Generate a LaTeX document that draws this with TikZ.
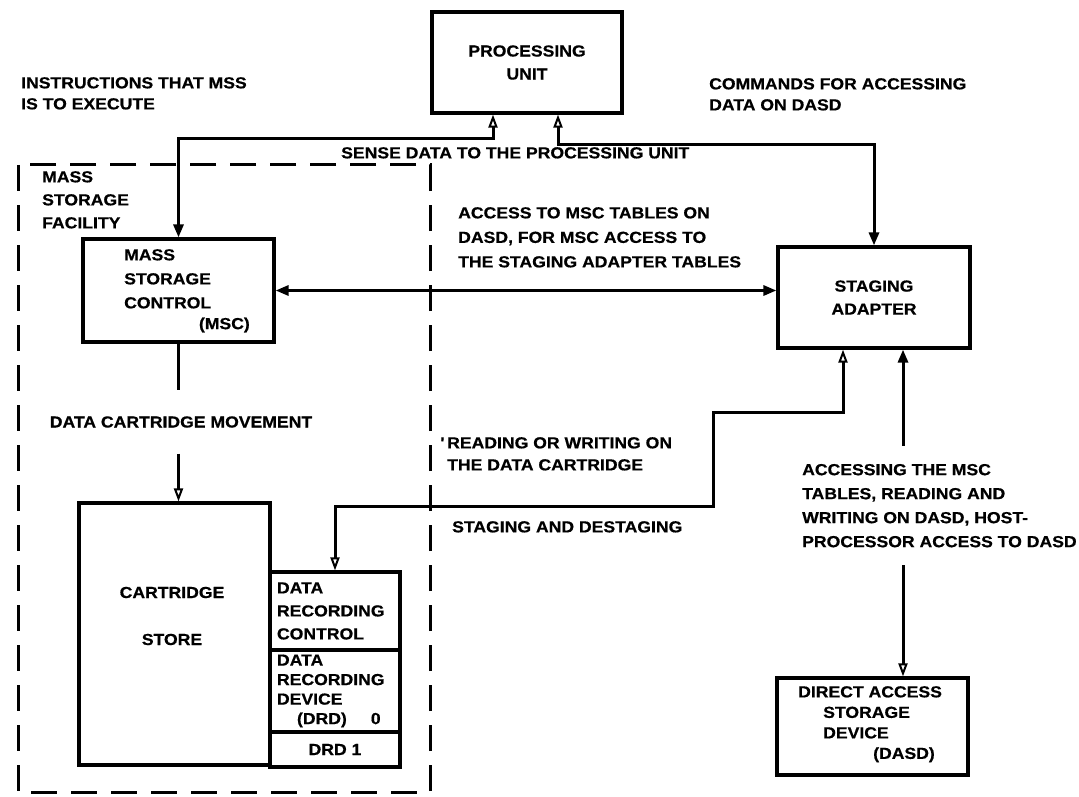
\documentclass[tikz,border=0pt]{standalone}
\usepackage{fontspec}
\newfontfamily\diagfont{Liberation Sans}[FakeStretch=1.1,FakeBold=0.6]
\usetikzlibrary{arrows.meta,calc,positioning}
\tikzset{
	Full/.tip={Triangle[length=13pt,width=10pt]},
	Hollow/.tip={Triangle[open,length=13pt,width=9pt,line width=2pt]},
	box/.style={% plain boxes of the diagram
		draw, rectangle,
		line width=3.2pt,
		inner sep=0pt,
		font=\diagfont\bfseries\fontsize{16}{23}\selectfont,
		align=center
	},
	txt/.style={% free labels, set flush left
		inner sep=0pt,
		font=\diagfont\bfseries\fontsize{16}{#1}\selectfont,
		align=left
	},
	txt/.default=23,
	link/.style={line width=3pt},
	facility/.style={line width=3pt, dash pattern=on 26pt off 14pt}
}
\begin{document}
\begin{tikzpicture}[x=1pt,y=-1pt]
	\useasboundingbox (0,0) rectangle (1079,797);
	\draw [facility] (18,165) rectangle (430,792);
	% boxes
	\node [box, minimum width=190pt, minimum height=101pt] (pu) at (527,62.5) {PROCESSING\\UNIT};
	\node [box, minimum width=191pt, minimum height=103pt] (msc) at (178.5,290.5) {};
	\node [box, minimum width=192pt, minimum height=101pt] (sa) at (874,297.5) {STAGING\\ADAPTER};
	\node [box, minimum width=191pt, minimum height=262pt] (cs) at (174.5,634) {};
	\node [box, minimum width=130pt, minimum height=78pt, text width=116pt, align=left] (drc) at (335,611) {DATA\\RECORDING\\CONTROL};
	\node [box, minimum width=130pt, minimum height=82pt, text width=116pt, align=left,
		font=\diagfont\bfseries\fontsize{16}{19.5}\selectfont] (drd0) at (335,691) {DATA\\RECORDING\\DEVICE\\\hspace*{20pt}(DRD)\hspace{24pt}0};
	\node [box, minimum width=130pt, minimum height=35pt] (drd1) at (335,749.5) {DRD 1};
	\node [box, minimum width=191pt, minimum height=97pt] (dasd) at (872.5,726.5) {};
	% labels
	\node [txt=21, anchor=north west] (instr) at (21,77) {INSTRUCTIONS THAT MSS\\IS TO EXECUTE};
	\node [txt=21, anchor=north west] (cmds) at (709,78) {COMMANDS FOR ACCESSING\\DATA ON DASD};
	\node [txt, anchor=north west] (sense) at (341,147) {SENSE DATA TO THE PROCESSING UNIT};
	\node [txt, anchor=north west] (msf) at (42,171) {MASS\\STORAGE\\FACILITY};
	\node [txt=24, anchor=north west] (msclbl) at (124,249) {MASS\\STORAGE\\CONTROL};
	\node [txt, anchor=east] (mscabbr) at (250,325) {(MSC)};
	\node [txt=24.5, anchor=north west] (tables) at (458,207) {ACCESS TO MSC TABLES ON\\DASD, FOR MSC ACCESS TO\\THE STAGING ADAPTER TABLES};
	\node [txt, outer ysep=26pt] (move) at (181,422) {DATA CARTRIDGE MOVEMENT};
	\node [txt, align=center] (cslbl) at (172,616) {CARTRIDGE\\[24pt]STORE};
	\node [txt=22, anchor=north west] (rw) at (447,437) {\llap{'\,}READING OR WRITING ON\\THE DATA CARTRIDGE};
	\node [txt, anchor=north west] (stage) at (452,521) {STAGING AND DESTAGING};
	\node [txt=24, anchor=north west, outer ysep=18pt] (host) at (802,446) {ACCESSING THE MSC\\TABLES, READING AND\\WRITING ON DASD, HOST-\\PROCESSOR ACCESS TO DASD};
	\node [txt=20.5, anchor=north west] (dasdlbl) at (798,686) {DIRECT ACCESS\\\hspace*{25pt}STORAGE\\\hspace*{25pt}DEVICE\\\hspace*{75pt}(DASD)};
	% connectors
	\draw [link, Hollow-Full] ([xshift=-34pt]pu.south) -- ++(0,24) -| (msc.north);
	\draw [link, Hollow-Full] ([xshift=31pt]pu.south) -- ++(0,30) -| (sa.north);
	\draw [link, Full-Full] (msc.east) -- (msc.east -| sa.west);
	\draw [link] (msc.south) -- (msc.south |- move.north);
	\draw [link, -Hollow] (msc.south |- move.south) -- (msc.south |- cs.north);
	\coordinate (rw1) at (713,412);
	\coordinate (rw2) at (713,506);
	\draw [link, Hollow-Hollow] ([xshift=-31pt]sa.south) |- (rw1) -- (rw2) -| (drc.north);
	\draw [link, Full-] ([xshift=29pt]sa.south) -- ([xshift=29pt]sa.south |- host.north);
	\draw [link, -Hollow] ([xshift=29pt]sa.south |- host.south) -- ([xshift=29pt]sa.south |- dasd.north);
\end{tikzpicture}
\end{document}
